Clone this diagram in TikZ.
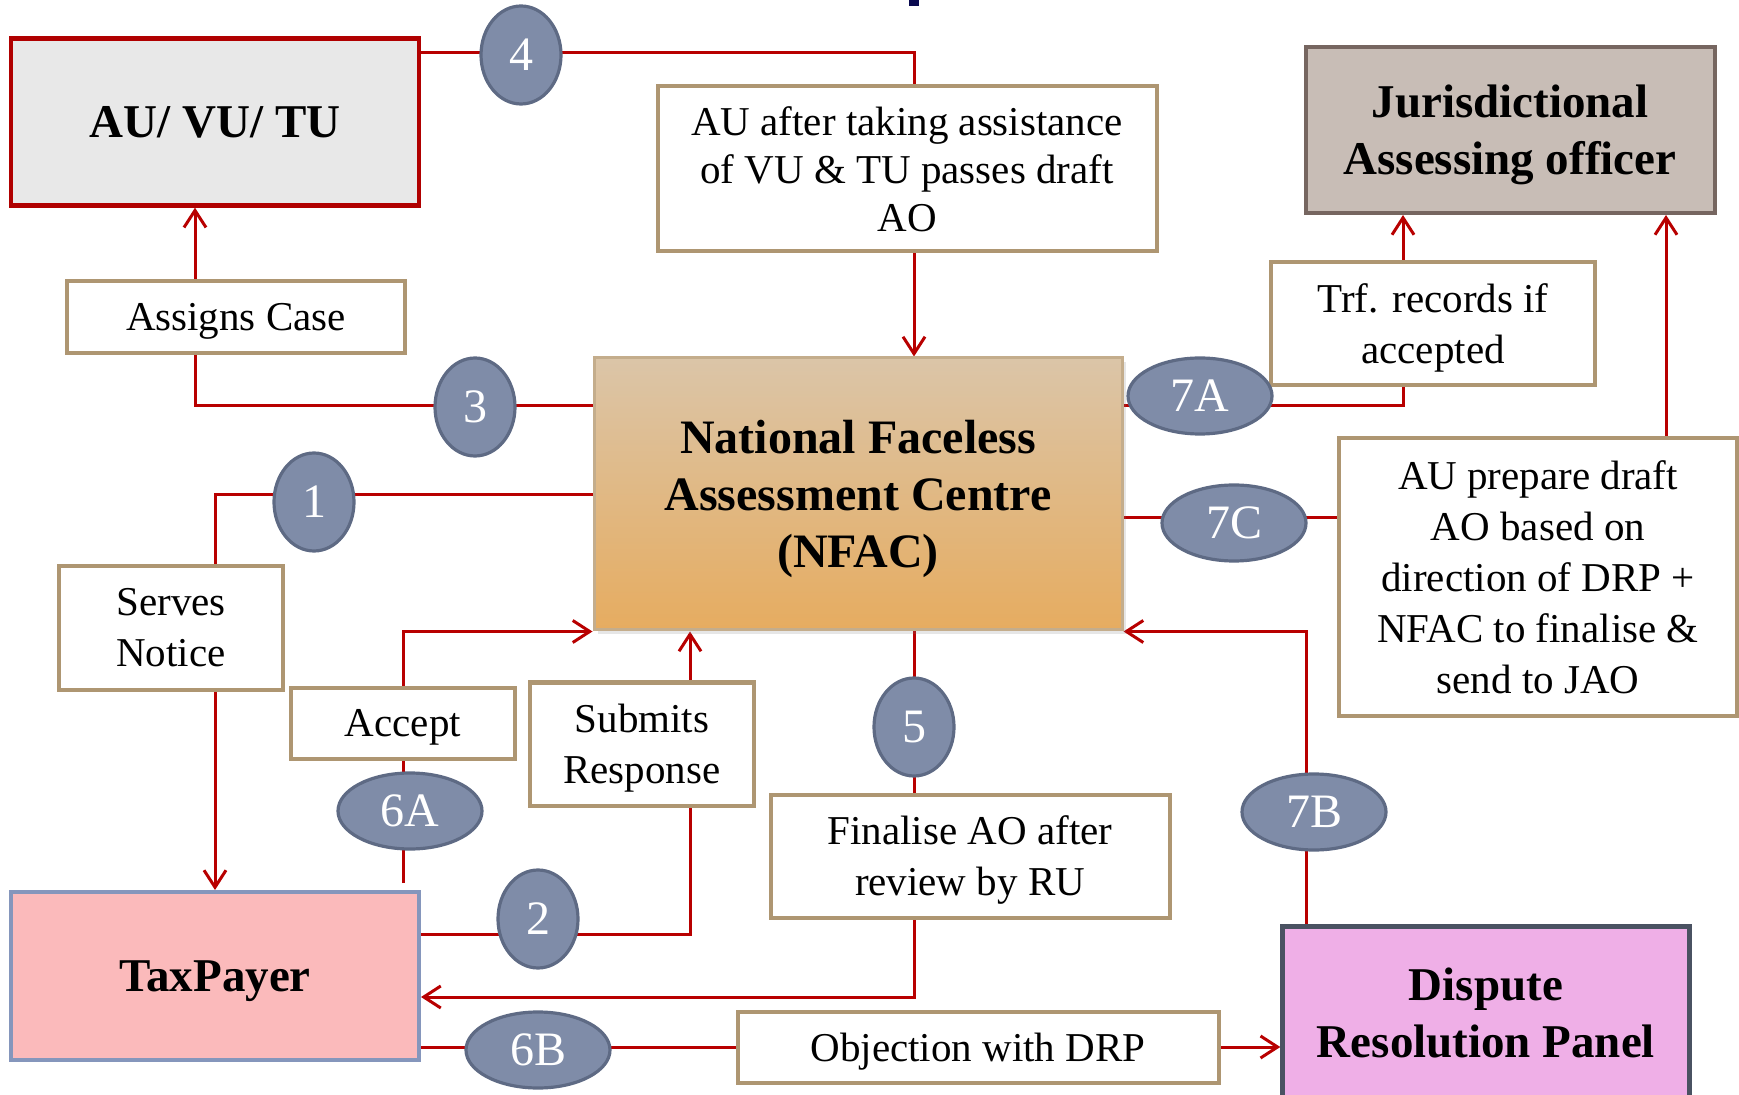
\documentclass[tikz,border=0pt]{standalone}
\usepackage{fontspec}
\setmainfont{Liberation Serif}
\usetikzlibrary{arrows.meta,backgrounds,calc,shadows,shapes.geometric}

\definecolor{linkred}{HTML}{B80000}
\definecolor{boxtan}{HTML}{AE9672}
\definecolor{augray}{HTML}{E8E8E8}
\definecolor{aured}{HTML}{B00000}
\definecolor{jaofill}{HTML}{C8BDB6}
\definecolor{jaoline}{HTML}{766660}
\definecolor{nfactop}{HTML}{DBC5A8}
\definecolor{nfacbot}{HTML}{E6AC60}
\definecolor{nfacline}{HTML}{C4AD8C}
\definecolor{taxfill}{HTML}{FBBABB}
\definecolor{taxline}{HTML}{8596BC}
\definecolor{drpfill}{HTML}{EFAFE7}
\definecolor{drpline}{HTML}{4A5262}
\definecolor{stepfill}{HTML}{7F8CA8}
\definecolor{stepline}{HTML}{5E6A84}
\definecolor{titlenavy}{HTML}{0A0A50}

\tikzset{
  unit/.style={draw, line width=2.2pt, align=center, inner sep=0pt,
    font=\fontsize{23.5}{28.5}\selectfont\bfseries},
  note/.style={draw=boxtan, line width=2pt, fill=white, align=center, inner sep=0pt,
    font=\fontsize{20.5}{25.5}\selectfont},
  low/.style={text depth=-1pt},
  stepno/.style={ellipse, draw=stepline, fill=stepfill, line width=1.6pt, text=white,
    inner sep=0pt, minimum width=40pt, minimum height=49pt, font=\fontsize{24}{24}\selectfont},
  stepwide/.style={stepno, minimum width=72pt, minimum height=38pt},
  link/.style={draw=linkred, line width=1.5pt},
  arr/.style={link, -{Straight Barb[length=8.5pt,width=11pt]}},
}

\begin{document}
\begin{tikzpicture}[x=0.5pt,y=-0.5pt]
\useasboundingbox (0,0) rectangle (1739,1095);
\fill[titlenavy] (909,0) rectangle (919,6);

% main units
\node[unit, low, fill=augray, draw=aured, minimum width=204pt, minimum height=83.5pt] (au) at (215,122) {AU/ VU/ TU};
\node[unit, low, fill=jaofill, draw=jaoline, line width=2pt, minimum width=204.5pt, minimum height=83pt] (jao) at (1510,130) {Jurisdictional\\Assessing officer};
\node[unit, low, top color=nfactop, bottom color=nfacbot, draw=nfacline, line width=1.5pt,
  minimum width=264pt, minimum height=136pt, font=\fontsize{24}{28.5}\selectfont\bfseries,
  drop shadow={opacity=0.2, shadow xshift=2pt, shadow yshift=-2pt}] (nfac) at (858,494) {National Faceless\\Assessment Centre\\(NFAC)};
\node[unit, low, fill=taxfill, draw=taxline, line width=2pt, minimum width=204pt, minimum height=84pt] (tax) at (215,976) {TaxPayer};
\node[unit, fill=drpfill, draw=drpline, minimum width=203.5pt, minimum height=86.5pt] (drp) at (1486,1013) {Dispute\\Resolution Panel};

% text boxes
\node[note, minimum width=249.5pt, minimum height=82.5pt, font=\fontsize{20.5}{24}\selectfont] (draft) at (907,169) {AU after taking assistance\\of VU \& TU passes draft\\AO};
\node[note, low, minimum width=169pt, minimum height=36pt] (assign) at (236,317) {Assigns Case};
\node[note, minimum width=112pt, minimum height=61.5pt] (serve) at (171,628) {Serves\\Notice};
\node[note, low, minimum width=162pt, minimum height=61.5pt] (trf) at (1433,324) {Trf. records if\\accepted};
\node[note, minimum width=199pt, minimum height=138.5pt] (prep) at (1538,577) {AU prepare draft\\AO based on\\direction of DRP +\\NFAC to finalise \&\\send to JAO};
\node[note, low, minimum width=112pt, minimum height=35.5pt] (accept) at (403,723) {Accept};
\node[note, low, minimum width=112pt, minimum height=61.5pt] (submit) at (642,744) {Submits\\Response};
\node[note, low, minimum width=199.5pt, minimum height=61.5pt] (final) at (970,856) {Finalise AO after\\review by RU};
\node[note, low, minimum width=240.5pt, minimum height=35.5pt] (obj) at (978,1047) {Objection with DRP};

% step numbers
\node[stepno] (s4) at (521,55) {4};
\node[stepno] (s3) at (475,407) {3};
\node[stepno] (s1) at (314,502) {1};
\node[stepno] (s2) at (538,919) {2};
\node[stepno] (s5) at (914,727) {5};
\node[stepwide] (s7a) at (1200,396) {7A};
\node[stepwide] (s7c) at (1234,523) {7C};
\node[stepwide] (s7b) at (1314,812) {7B};
\node[stepwide] (s6a) at (410,811) {6A};
\node[stepwide] (s6b) at (538,1050) {6B};

% bends
\coordinate (c4) at (914,53);
\coordinate (c3) at (195,406);
\coordinate (c1) at (215,495);
\coordinate (c6) at (403,883);
\coordinate (c2) at (690,934);
\coordinate (c5) at (914,997);
\coordinate (c7a) at (1403,406);
\coordinate (c7b) at (1306,631);
\coordinate (c7c) at (1334,518);
\coordinate (c7p) at (1666,440);

\begin{scope}[on background layer]
  \draw[link] (au.east|-c4) -- (c4) -- (c4|-draft.north);
  \draw[arr] (c4|-draft.south) -- (c4|-nfac.north);
  \draw[link] (nfac.west|-c3) -- (c3) -- (c3|-assign.south);
  \draw[arr] (c3|-assign.north) -- (c3|-au.south);
  \draw[link] (nfac.west|-c1) -- (c1) -- (c1|-serve.north);
  \draw[arr] (c1|-serve.south) -- (c1|-tax.north);
  \draw[link] (c6) -- (c6|-accept.south);
  \draw[arr] (c6|-accept.north) -- (c6|-nfac.south west) -- (nfac.south west);
  \draw[link] (tax.east|-c2) -- (c2) -- (c2|-submit.south);
  \draw[arr] (c2|-submit.north) -- (c2|-nfac.south);
  \draw[link] (c5|-nfac.south) -- (c5|-final.north);
  \draw[arr] (c5|-final.south) -- (c5) -- (tax.east|-c5);
  \draw[link] (tax.east|-obj) -- (obj.west);
  \draw[arr] (obj.east) -- (drp.west|-obj);
  \draw[arr] (c7b|-drp.north) -- (c7b|-nfac.south east) -- (nfac.south east);
  \draw[link] (nfac.east|-c7a) -- (c7a) -- (c7a|-trf.south);
  \draw[arr] (c7a|-trf.north) -- (c7a|-jao.south);
  \draw[link] (nfac.east|-c7c) -- (prep.west|-c7c);
  \draw[arr] (c7p|-prep.north) -- (c7p|-jao.south);
\end{scope}
\end{tikzpicture}
\end{document}
